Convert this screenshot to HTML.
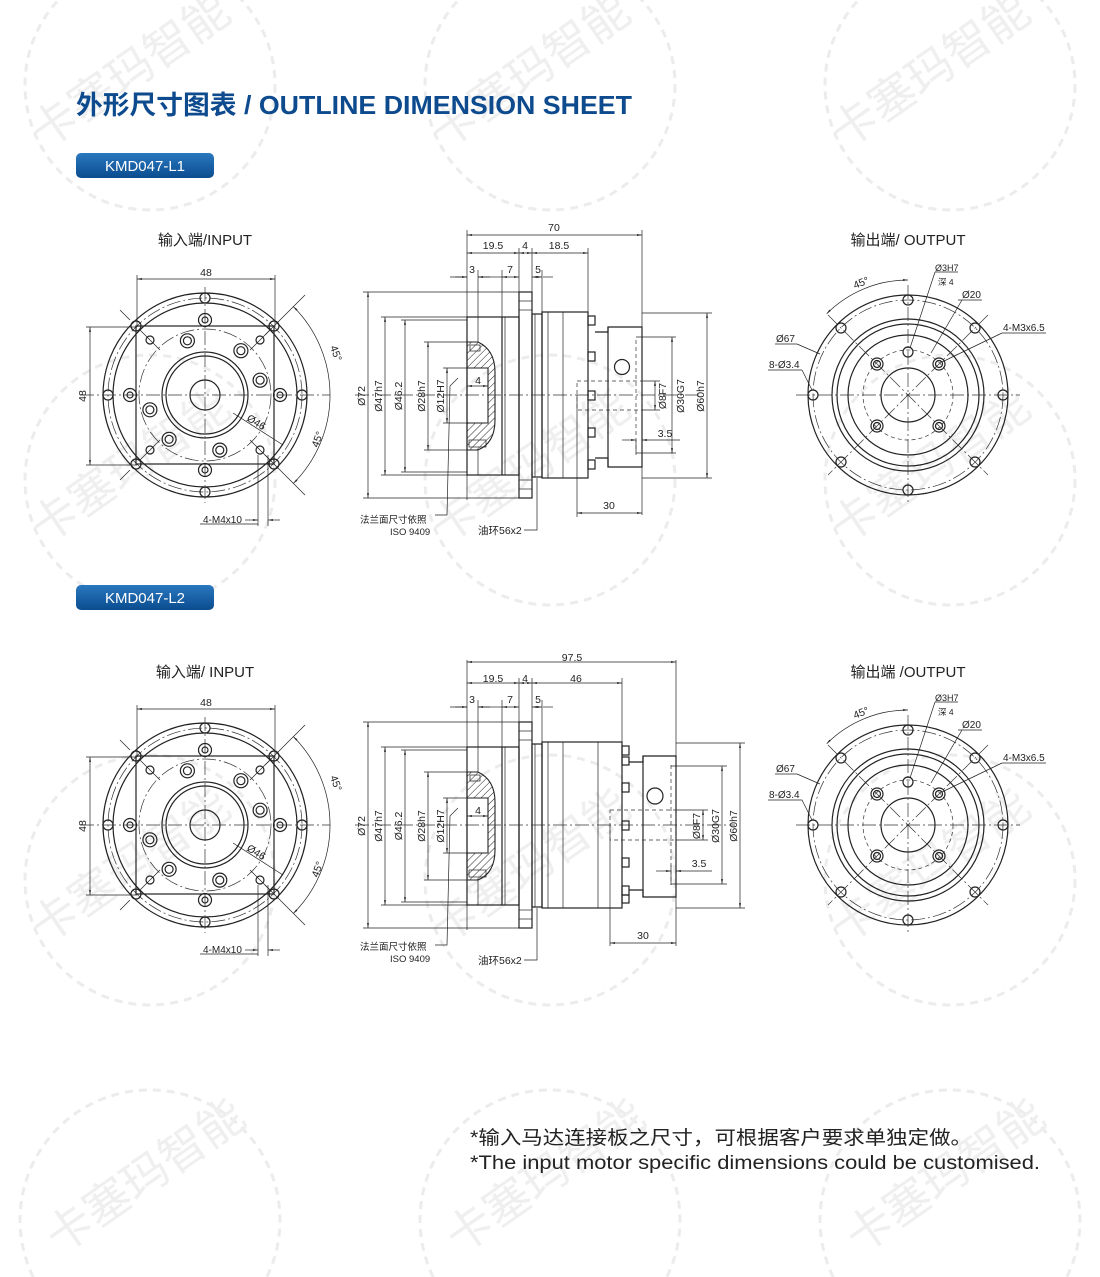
<!DOCTYPE html>
<html><head><meta charset="utf-8"><style>
html,body{margin:0;padding:0;background:#fff;width:1100px;height:1277px;overflow:hidden;}
svg{display:block;overflow:hidden;}
.o{fill:none;stroke:#222;stroke-width:1.2}
.t{fill:none;stroke:#222;stroke-width:.7}
.dd{fill:none;stroke:#333;stroke-width:.7;stroke-dasharray:14 3 2 3}
.ds{fill:none;stroke:#333;stroke-width:.7;stroke-dasharray:4 3}
.dm{fill:none;stroke:#222;stroke-width:.7;marker-start:url(#a);marker-end:url(#a)}
text{font-family:"Liberation Sans","Noto Sans CJK SC",sans-serif;fill:#222}
.s{font-size:10.5px}
.wm{fill:none;stroke:#ececec;stroke-width:3;stroke-dasharray:8 6}
.wt{font-size:46px;fill:#efefef;font-family:"Noto Sans CJK SC",sans-serif}
</style></head><body>
<svg width="1100" height="1277" viewBox="0 0 1100 1277" xmlns="http://www.w3.org/2000/svg">
<defs>
<marker id="a" viewBox="0 0 10 10" refX="10" refY="5" markerWidth="7" markerHeight="7" orient="auto-start-reverse"><path d="M0,3 L10,5 L0,7z" fill="#222"/></marker>
<pattern id="h" width="5" height="5" patternUnits="userSpaceOnUse" patternTransform="rotate(45)"><line x1="0" y1="0" x2="0" y2="5" stroke="#222" stroke-width="1"/></pattern>
<g id="inp">
<circle r="102" class="o"/><circle r="92" class="o"/><circle r="97" class="dd"/>
<rect x="-69" y="-69" width="138" height="138" class="o"/>
<circle r="66" class="dd"/>
<circle r="43" class="o"/><circle r="39" class="o"/><circle r="15" class="o"/>
<line x1="-125" y1="0" x2="125" y2="0" class="dd"/><line x1="0" y1="-108" x2="0" y2="108" class="dd"/>
<g class="o">
<circle cx="0" cy="-97" r="5"/><circle cx="69" cy="-69" r="5"/><circle cx="97" cy="0" r="5"/><circle cx="69" cy="69" r="5"/><circle cx="0" cy="97" r="5"/><circle cx="-69" cy="69" r="5"/><circle cx="-97" cy="0" r="5"/><circle cx="-69" cy="-69" r="5"/>
<circle cx="0" cy="-75" r="6.5"/><circle cx="0" cy="-75" r="3"/><circle cx="75" cy="0" r="6.5"/><circle cx="75" cy="0" r="3"/><circle cx="0" cy="75" r="6.5"/><circle cx="0" cy="75" r="3"/><circle cx="-75" cy="0" r="6.5"/><circle cx="-75" cy="0" r="3"/>
<circle cx="55" cy="-55" r="4"/><circle cx="-55" cy="-55" r="4"/><circle cx="55" cy="55" r="4"/><circle cx="-55" cy="55" r="4"/>
<circle cx="-17.6" cy="-54.2" r="7"/><circle cx="-17.6" cy="-54.2" r="4"/>
<circle cx="35.9" cy="-44.3" r="7"/><circle cx="35.9" cy="-44.3" r="4"/>
<circle cx="55.1" cy="-14.8" r="7"/><circle cx="55.1" cy="-14.8" r="4"/>
<circle cx="-55.1" cy="14.8" r="7"/><circle cx="-55.1" cy="14.8" r="4"/>
<circle cx="-35.9" cy="44.3" r="7"/><circle cx="-35.9" cy="44.3" r="4"/>
<circle cx="14.8" cy="55.1" r="7"/><circle cx="14.8" cy="55.1" r="4"/>
</g>
<g class="t"><line x1="45" y1="-45" x2="66" y2="-66"/><line x1="-45" y1="-45" x2="-66" y2="-66"/><line x1="45" y1="45" x2="66" y2="66"/><line x1="-45" y1="45" x2="-66" y2="66"/>
<line x1="60" y1="-60" x2="100" y2="-100"/><line x1="60" y1="60" x2="100" y2="100"/>
<line x1="-75" y1="-75" x2="-85" y2="-85"/><line x1="-75" y1="75" x2="-85" y2="85"/></g>
<path d="M88.4,-88.4 A125,125 0 0 1 88.4,88.4" class="dm"/>
<line x1="28" y1="18" x2="78" y2="50" class="t"/>
</g>
<g id="outp">
<circle r="100" class="o"/><circle r="95" class="dd"/><circle r="76" class="o"/><circle r="71" class="o"/><circle r="60" class="o"/><circle r="45" class="ds"/><circle r="27" class="o"/>
<line x1="-112" y1="0" x2="112" y2="0" class="dd"/><line x1="0" y1="-110" x2="0" y2="110" class="dd"/>
<line x1="-80" y1="-80" x2="80" y2="80" class="dd"/><line x1="80" y1="-80" x2="-80" y2="80" class="dd"/>
<g class="o">
<circle cx="0" cy="-95" r="5"/><circle cx="67" cy="-67" r="5"/><circle cx="95" cy="0" r="5"/><circle cx="67" cy="67" r="5"/><circle cx="0" cy="95" r="5"/><circle cx="-67" cy="67" r="5"/><circle cx="-95" cy="0" r="5"/><circle cx="-67" cy="-67" r="5"/>
<circle cx="31" cy="-31" r="6"/><circle cx="31" cy="-31" r="3.5"/><circle cx="-31" cy="-31" r="6"/><circle cx="-31" cy="-31" r="3.5"/>
<circle cx="31" cy="31" r="6"/><circle cx="31" cy="31" r="3.5"/><circle cx="-31" cy="31" r="6"/><circle cx="-31" cy="31" r="3.5"/>
<circle cx="0" cy="-43" r="5"/>
</g>
<path d="M-81.3,-81.3 A115,115 0 0 1 0,-115" class="dm"/>
</g>
<g id="sideL">
<path d="M467,342 L478,342 Q495,350 495,372 L495,420 Q495,443 478,450 L467,450 Z M467,368 L488,368 L488,423 L467,423 Z" fill="url(#h)" fill-rule="evenodd" stroke="#222" stroke-width="1.1"/>
<rect x="470" y="345" width="10" height="6" fill="#fff" class="t"/><rect x="469" y="440" width="17" height="7" fill="#fff" class="t"/>
<rect x="467" y="317" width="52" height="158" class="o"/>
<line x1="478" y1="317" x2="478" y2="342" class="t"/><line x1="478" y1="450" x2="478" y2="475" class="t"/>
<line x1="502" y1="317" x2="502" y2="475" class="o"/><line x1="505" y1="317" x2="505" y2="475" class="t"/>
<rect x="519" y="292" width="13" height="206" class="o" fill="#fff"/>
<rect x="519" y="292" width="13" height="9" fill="url(#h)" class="t"/><rect x="519" y="489" width="13" height="9" fill="url(#h)" class="t"/>
<line x1="519" y1="310" x2="532" y2="310" class="t"/><line x1="519" y1="480" x2="532" y2="480" class="t"/>
<rect x="532" y="314" width="10" height="163" class="o"/><line x1="535" y1="314" x2="535" y2="477" class="t"/>
<g class="t"><line x1="363" y1="292" x2="519" y2="292"/><line x1="363" y1="498" x2="519" y2="498"/>
<line x1="381" y1="317" x2="467" y2="317"/><line x1="381" y1="475" x2="467" y2="475"/>
<line x1="401" y1="320" x2="467" y2="320"/><line x1="401" y1="472" x2="467" y2="472"/>
<line x1="424" y1="342" x2="467" y2="342"/><line x1="424" y1="450" x2="467" y2="450"/>
<line x1="443" y1="368" x2="467" y2="368"/><line x1="443" y1="423" x2="467" y2="423"/>
<line x1="467" y1="230" x2="467" y2="500"/>
<line x1="478" y1="270" x2="478" y2="317"/><line x1="502" y1="270" x2="502" y2="317"/>
<line x1="519" y1="248" x2="519" y2="292"/><line x1="532" y1="248" x2="532" y2="292"/><line x1="542" y1="270" x2="542" y2="314"/>
<line x1="450" y1="277" x2="467" y2="277"/><line x1="478" y1="277" x2="490" y2="277"/>
<line x1="490" y1="277" x2="502" y2="277"/><line x1="543" y1="277" x2="553" y2="277"/>
</g>
<line x1="368" y1="292" x2="368" y2="498" class="dm"/>
<line x1="385" y1="317" x2="385" y2="475" class="dm"/>
<line x1="405" y1="320" x2="405" y2="472" class="dm"/>
<line x1="428" y1="342" x2="428" y2="450" class="dm"/>
<line x1="447" y1="368" x2="447" y2="423" class="dm"/>
<line x1="467" y1="386" x2="488" y2="386" class="dm"/>
<line x1="467" y1="253" x2="519" y2="253" class="dm"/>
<line x1="519" y1="253" x2="532" y2="253" class="dm"/>
<line x1="455" y1="277" x2="467" y2="277" class="t" marker-end="url(#a)"/><line x1="490" y1="277" x2="478" y2="277" class="t" marker-end="url(#a)"/>
<line x1="502" y1="277" x2="519" y2="277" class="dm"/>
<line x1="532" y1="277" x2="542" y2="277" class="dm"/>
<polyline points="458,378 450,386 447,515 435,515" class="t"/>
<polyline points="537,478 537,530 524,530" class="t"/>
</g>
</defs>

<g>
<circle cx="150" cy="85" r="125" class="wm"/><circle cx="550" cy="85" r="125" class="wm"/><circle cx="950" cy="85" r="125" class="wm"/>
<circle cx="150" cy="480" r="125" class="wm"/><circle cx="550" cy="480" r="125" class="wm"/><circle cx="950" cy="480" r="125" class="wm"/>
<circle cx="150" cy="880" r="125" class="wm"/><circle cx="550" cy="880" r="125" class="wm"/><circle cx="950" cy="880" r="125" class="wm"/>
<path d="M33.2,1277 A130,130 0 1 1 266.8,1277" class="wm"/>
<path d="M433.2,1277 A130,130 0 1 1 666.8,1277" class="wm"/>
<path d="M833.2,1277 A130,130 0 1 1 1066.8,1277" class="wm"/>
<text class="wt" transform="translate(45,150) rotate(-35)">卡塞玛智能</text>
<text class="wt" transform="translate(445,150) rotate(-35)">卡塞玛智能</text>
<text class="wt" transform="translate(845,150) rotate(-35)">卡塞玛智能</text>
<text class="wt" transform="translate(45,545) rotate(-35)">卡塞玛智能</text>
<text class="wt" transform="translate(445,545) rotate(-35)">卡塞玛智能</text>
<text class="wt" transform="translate(845,545) rotate(-35)">卡塞玛智能</text>
<text class="wt" transform="translate(45,945) rotate(-35)">卡塞玛智能</text>
<text class="wt" transform="translate(445,945) rotate(-35)">卡塞玛智能</text>
<text class="wt" transform="translate(845,945) rotate(-35)">卡塞玛智能</text>
<text class="wt" transform="translate(60,1255) rotate(-35)">卡塞玛智能</text>
<text class="wt" transform="translate(460,1255) rotate(-35)">卡塞玛智能</text>
<text class="wt" transform="translate(860,1255) rotate(-35)">卡塞玛智能</text>
</g>

<text x="76" y="114" font-size="26" font-weight="bold" style="fill:#0d4a8e;font-family:'Liberation Sans Narrow','Liberation Sans','Noto Sans CJK SC',sans-serif" textLength="556" lengthAdjust="spacingAndGlyphs">外形尺寸图表 / OUTLINE DIMENSION SHEET</text>
<defs><linearGradient id="bg" x1="0" y1="0" x2="0" y2="1"><stop offset="0" stop-color="#2a78c0"/><stop offset="1" stop-color="#0b4c8f"/></linearGradient></defs>
<rect x="76" y="153" width="138" height="25" rx="5" fill="url(#bg)"/>
<text x="145" y="171" font-size="15" text-anchor="middle" style="fill:#fff">KMD047-L1</text>
<rect x="76" y="585" width="138" height="25" rx="5" fill="url(#bg)"/>
<text x="145" y="603" font-size="15" text-anchor="middle" style="fill:#fff">KMD047-L2</text>

<text x="205" y="245" font-size="15" text-anchor="middle">输入端/INPUT</text>
<use href="#inp" x="205" y="395"/>
<g class="t"><line x1="137" y1="275" x2="137" y2="327"/><line x1="275" y1="275" x2="275" y2="327"/><line x1="86" y1="327" x2="137" y2="327"/><line x1="86" y1="465" x2="137" y2="465"/>
<line x1="258" y1="455" x2="258" y2="526"/><line x1="268" y1="455" x2="268" y2="526"/><line x1="200" y1="524" x2="258" y2="524"/></g>
<line x1="137" y1="279" x2="275" y2="279" class="dm"/><line x1="90" y1="327" x2="90" y2="465" class="dm"/>
<line x1="245" y1="520" x2="258" y2="520" class="t" marker-end="url(#a)"/><line x1="280" y1="520" x2="268" y2="520" class="t" marker-end="url(#a)"/>
<text x="206" y="276" class="s" text-anchor="middle">48</text>
<text class="s" transform="translate(86,396) rotate(-90)" text-anchor="middle">48</text>
<text class="s" transform="translate(330,347) rotate(70)">45°</text>
<text class="s" transform="translate(318,448) rotate(-70)">45°</text>
<text class="s" transform="translate(246,420) rotate(32)">Ø46</text>
<text x="203" y="523" font-size="10">4-M4x10</text>

<use href="#sideL"/>
<g class="t"><line x1="642" y1="230" x2="642" y2="515"/><line x1="588" y1="248" x2="588" y2="316"/><line x1="577" y1="395" x2="577" y2="517"/>
<line x1="642" y1="313" x2="712" y2="313"/><line x1="642" y1="478" x2="712" y2="478"/><line x1="636" y1="337" x2="676" y2="337"/><line x1="636" y1="453" x2="676" y2="453"/>
<line x1="642" y1="381" x2="660" y2="381"/><line x1="642" y1="410" x2="660" y2="410"/><line x1="636" y1="440" x2="636" y2="455"/></g>
<line x1="355" y1="395" x2="700" y2="395" class="dd"/>
<rect x="542" y="312" width="46" height="166" class="o"/><line x1="548" y1="312" x2="548" y2="478" class="t"/><line x1="563" y1="312" x2="563" y2="478" class="t"/>
<g class="o"><rect x="588" y="316" width="7" height="9"/><rect x="588" y="352" width="7" height="9"/><rect x="588" y="391" width="7" height="9"/><rect x="588" y="428" width="7" height="9"/><rect x="588" y="460" width="7" height="9"/></g>
<path d="M595,332 L608,332 L608,327 L642,327 L642,467 L608,467 L608,458 L595,458" class="o"/>
<line x1="608" y1="327" x2="608" y2="467" class="o"/>
<circle cx="622" cy="367" r="7.5" class="o"/>
<rect x="577" y="381" width="65" height="29" class="ds"/><line x1="636" y1="340" x2="636" y2="450" class="ds"/>
<line x1="467" y1="235" x2="642" y2="235" class="dm"/>
<line x1="532" y1="253" x2="588" y2="253" class="dm"/>
<line x1="655" y1="381" x2="655" y2="410" class="dm"/>
<line x1="672" y1="337" x2="672" y2="453" class="dm"/>
<line x1="707" y1="313" x2="707" y2="478" class="dm"/>
<line x1="622" y1="440" x2="636" y2="440" class="t" marker-end="url(#a)"/><line x1="680" y1="440" x2="642" y2="440" class="t" marker-end="url(#a)"/>
<line x1="577" y1="513" x2="642" y2="513" class="dm"/>
<text x="554" y="231" class="s" text-anchor="middle">70</text>
<text x="493" y="249" class="s" text-anchor="middle">19.5</text><text x="525" y="249" class="s" text-anchor="middle">4</text><text x="559" y="249" class="s" text-anchor="middle">18.5</text>
<text x="472" y="273" class="s" text-anchor="middle">3</text><text x="510" y="273" class="s" text-anchor="middle">7</text><text x="538" y="273" class="s" text-anchor="middle">5</text>
<text x="478" y="384" class="s" text-anchor="middle">4</text>
<text class="s" transform="translate(365,396) rotate(-90)" text-anchor="middle">Ø72</text>
<text class="s" transform="translate(382,396) rotate(-90)" text-anchor="middle">Ø47h7</text>
<text class="s" transform="translate(402,396) rotate(-90)" text-anchor="middle">Ø46.2</text>
<text class="s" transform="translate(425,396) rotate(-90)" text-anchor="middle">Ø28h7</text>
<text class="s" transform="translate(444,396) rotate(-90)" text-anchor="middle">Ø12H7</text>
<text class="s" transform="translate(666,396) rotate(-90)" text-anchor="middle">Ø8F7</text>
<text class="s" transform="translate(684,396) rotate(-90)" text-anchor="middle">Ø30G7</text>
<text class="s" transform="translate(704,396) rotate(-90)" text-anchor="middle">Ø60h7</text>
<text x="665" y="437" class="s" text-anchor="middle">3.5</text>
<text x="609" y="509" class="s" text-anchor="middle">30</text>
<text x="360" y="523" font-size="9.5">法兰面尺寸依照</text><text x="390" y="535" font-size="9.5">ISO 9409</text>
<text x="478" y="534" font-size="10.5">油环56x2</text>

<text x="908" y="245" font-size="15" text-anchor="middle">输出端/ OUTPUT</text>
<use href="#outp" x="908" y="395"/>
<g class="t"><line x1="935" y1="272" x2="910" y2="348"/><line x1="935" y1="272" x2="958" y2="272"/>
<line x1="962" y1="300" x2="931" y2="353"/><line x1="958" y1="300" x2="982" y2="300"/>
<line x1="1002" y1="333" x2="1046" y2="333"/><line x1="1002" y1="333" x2="942" y2="362"/>
<line x1="775" y1="344" x2="797" y2="344"/><line x1="797" y1="344" x2="820" y2="354"/>
<line x1="768" y1="370" x2="802" y2="370"/><line x1="802" y1="370" x2="812" y2="390"/></g>
<text x="935" y="271" font-size="9">Ø3H7</text><text x="938" y="285" font-size="8.5">深 4</text>
<text x="962" y="298" font-size="10">Ø20</text><text x="1003" y="331" font-size="10">4-M3x6.5</text>
<text x="776" y="342" font-size="10">Ø67</text><text x="769" y="368" font-size="10">8-Ø3.4</text>
<text class="s" transform="translate(855,289) rotate(-22)">45°</text>

<text x="205" y="677" font-size="15" text-anchor="middle">输入端/ INPUT</text>
<use href="#inp" x="205" y="825"/>
<g class="t"><line x1="137" y1="705" x2="137" y2="757"/><line x1="275" y1="705" x2="275" y2="757"/><line x1="86" y1="757" x2="137" y2="757"/><line x1="86" y1="895" x2="137" y2="895"/>
<line x1="258" y1="885" x2="258" y2="956"/><line x1="268" y1="885" x2="268" y2="956"/><line x1="200" y1="954" x2="258" y2="954"/></g>
<line x1="137" y1="709" x2="275" y2="709" class="dm"/><line x1="90" y1="757" x2="90" y2="895" class="dm"/>
<line x1="245" y1="950" x2="258" y2="950" class="t" marker-end="url(#a)"/><line x1="280" y1="950" x2="268" y2="950" class="t" marker-end="url(#a)"/>
<text x="206" y="706" class="s" text-anchor="middle">48</text>
<text class="s" transform="translate(86,826) rotate(-90)" text-anchor="middle">48</text>
<text class="s" transform="translate(330,777) rotate(70)">45°</text>
<text class="s" transform="translate(318,878) rotate(-70)">45°</text>
<text class="s" transform="translate(246,850) rotate(32)">Ø46</text>
<text x="203" y="953" font-size="10">4-M4x10</text>

<use href="#sideL" y="430"/>
<g class="t"><line x1="676" y1="660" x2="676" y2="946"/><line x1="622" y1="678" x2="622" y2="745"/><line x1="610" y1="825" x2="610" y2="946"/>
<line x1="676" y1="743" x2="745" y2="743"/><line x1="676" y1="908" x2="745" y2="908"/><line x1="671" y1="766" x2="727" y2="766"/><line x1="671" y1="884" x2="727" y2="884"/>
<line x1="676" y1="810" x2="708" y2="810"/><line x1="676" y1="840" x2="708" y2="840"/><line x1="671" y1="865" x2="671" y2="885"/></g>
<line x1="355" y1="825" x2="735" y2="825" class="dd"/>
<rect x="542" y="742" width="80" height="166" class="o"/><line x1="548" y1="742" x2="548" y2="908" class="t"/><line x1="563" y1="742" x2="563" y2="908" class="t"/><line x1="598" y1="742" x2="598" y2="908" class="t"/>
<g class="o"><rect x="622" y="746" width="7" height="9"/><rect x="622" y="757" width="7" height="8"/><rect x="622" y="783" width="7" height="9"/><rect x="622" y="821" width="7" height="9"/><rect x="622" y="858" width="7" height="9"/><rect x="622" y="886" width="7" height="9"/><rect x="622" y="895" width="7" height="8"/></g>
<path d="M629,762 L643,762 L643,756 L676,756 L676,897 L643,897 L643,890 L629,890" class="o"/>
<line x1="643" y1="756" x2="643" y2="897" class="o"/>
<circle cx="655" cy="796" r="8" class="o"/>
<rect x="610" y="810" width="66" height="30" class="ds"/><line x1="671" y1="765" x2="671" y2="885" class="ds"/>
<line x1="467" y1="662" x2="676" y2="662" class="dm"/>
<line x1="532" y1="683" x2="622" y2="683" class="dm"/>
<line x1="703" y1="810" x2="703" y2="840" class="dm"/>
<line x1="722" y1="766" x2="722" y2="884" class="dm"/>
<line x1="740" y1="743" x2="740" y2="908" class="dm"/>
<line x1="656" y1="871" x2="671" y2="871" class="t" marker-end="url(#a)"/><line x1="712" y1="871" x2="676" y2="871" class="t" marker-end="url(#a)"/>
<line x1="610" y1="943" x2="676" y2="943" class="dm"/>
<text x="572" y="661" class="s" text-anchor="middle">97.5</text>
<text x="493" y="682" class="s" text-anchor="middle">19.5</text><text x="525" y="682" class="s" text-anchor="middle">4</text><text x="576" y="682" class="s" text-anchor="middle">46</text>
<text x="472" y="703" class="s" text-anchor="middle">3</text><text x="510" y="703" class="s" text-anchor="middle">7</text><text x="538" y="703" class="s" text-anchor="middle">5</text>
<text x="478" y="814" class="s" text-anchor="middle">4</text>
<text class="s" transform="translate(365,826) rotate(-90)" text-anchor="middle">Ø72</text>
<text class="s" transform="translate(382,826) rotate(-90)" text-anchor="middle">Ø47h7</text>
<text class="s" transform="translate(402,826) rotate(-90)" text-anchor="middle">Ø46.2</text>
<text class="s" transform="translate(425,826) rotate(-90)" text-anchor="middle">Ø28h7</text>
<text class="s" transform="translate(444,826) rotate(-90)" text-anchor="middle">Ø12H7</text>
<text class="s" transform="translate(700,826) rotate(-90)" text-anchor="middle">Ø8F7</text>
<text class="s" transform="translate(719,826) rotate(-90)" text-anchor="middle">Ø30G7</text>
<text class="s" transform="translate(737,826) rotate(-90)" text-anchor="middle">Ø60h7</text>
<text x="699" y="867" class="s" text-anchor="middle">3.5</text>
<text x="643" y="939" class="s" text-anchor="middle">30</text>
<text x="360" y="950" font-size="9.5">法兰面尺寸依照</text><text x="390" y="962" font-size="9.5">ISO 9409</text>
<text x="478" y="964" font-size="10.5">油环56x2</text>

<text x="908" y="677" font-size="15" text-anchor="middle">输出端 /OUTPUT</text>
<use href="#outp" x="908" y="825"/>
<g class="t"><line x1="935" y1="702" x2="910" y2="778"/><line x1="935" y1="702" x2="958" y2="702"/>
<line x1="962" y1="730" x2="931" y2="783"/><line x1="958" y1="730" x2="982" y2="730"/>
<line x1="1002" y1="763" x2="1046" y2="763"/><line x1="1002" y1="763" x2="942" y2="792"/>
<line x1="775" y1="774" x2="797" y2="774"/><line x1="797" y1="774" x2="820" y2="784"/>
<line x1="768" y1="800" x2="802" y2="800"/><line x1="802" y1="800" x2="812" y2="820"/></g>
<text x="935" y="701" font-size="9">Ø3H7</text><text x="938" y="715" font-size="8.5">深 4</text>
<text x="962" y="728" font-size="10">Ø20</text><text x="1003" y="761" font-size="10">4-M3x6.5</text>
<text x="776" y="772" font-size="10">Ø67</text><text x="769" y="798" font-size="10">8-Ø3.4</text>
<text class="s" transform="translate(855,719) rotate(-22)">45°</text>

<text x="470" y="1144" font-size="19" textLength="502" lengthAdjust="spacingAndGlyphs">*输入马达连接板之尺寸，可根据客户要求单独定做。</text>
<text x="470" y="1169" font-size="19" textLength="570" lengthAdjust="spacingAndGlyphs">*The input motor specific dimensions could be customised.</text>
</svg>
</body></html>
